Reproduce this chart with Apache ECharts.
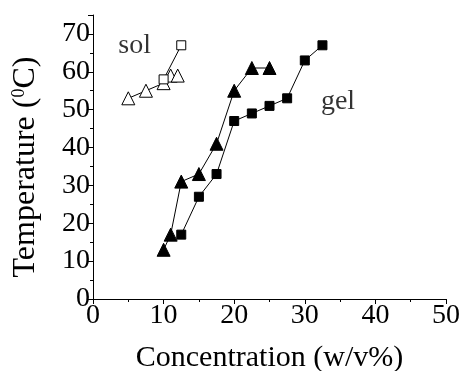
<!DOCTYPE html>
<html><head><meta charset="utf-8">
<script src="https://cdn.jsdelivr.net/npm/echarts@6/dist/echarts.min.js"></script>
<style>html,body{margin:0;padding:0;background:#fff}#c{width:463px;height:371px}</style>
</head><body><div id="c"></div>
<script>
// Data
const gelTriX = [10, 11, 12.5, 15, 17.5, 20, 22.5, 25];
const gelTriY = [13, 17, 31, 33, 41, 55, 61, 61];
const gelSqX = [12.5, 15, 17.5, 20, 22.5, 25, 27.5, 30, 32.5];
const gelSqY = [17, 27, 33, 47, 49, 51, 53, 63, 67];
const solTriX = [5, 7.5, 10, 11, 12];
const solTriY = [53, 55, 57, 59, 59];
const solSqX = [10, 12.5];
const solSqY = [58, 67];
const xTicks = [0, 10, 20, 30, 40, 50];
const yTicks = [0, 10, 20, 30, 40, 50, 60, 70];
const labels = [{text: 'sol', x: 5.9, y: 67}, {text: 'gel', x: 34.7, y: 52}];

const font = 'Liberation Serif';
const pair = (xs, ys) => xs.map((x, i) => [x, ys[i]]);
const lineStyle = {color: '#000', width: 1};
function series(xs, ys, symbol, size, filled) {
  return {
    type: 'line', data: pair(xs, ys), symbol: symbol, symbolSize: size,
    showAllSymbol: true, lineStyle: lineStyle,
    itemStyle: {color: filled ? '#000' : '#fff', borderColor: '#000', borderWidth: 1},
    animation: false, z: 3
  };
}
const chart = echarts.init(document.getElementById('c'));
chart.setOption({
  animation: false,
  backgroundColor: '#fff',
  grid: {left: 93, right: 17, top: 15, bottom: 72, containLabel: false, outerBoundsMode: 'none'},
  xAxis: {
    type: 'value', min: 0, max: 50, interval: 10,
    axisLine: {lineStyle: {color: '#000', width: 1}},
    axisTick: {inside: false, length: 5, lineStyle: {color: '#000'}},
    minorTick: {show: true, splitNumber: 2, length: 3, lineStyle: {color: '#000'}},
    splitLine: {show: false},
    axisLabel: {color: '#000', fontFamily: font, fontSize: 28, margin: 3,
      formatter: v => xTicks.includes(v) ? String(v) : ''},
    name: 'Concentration (w/v%)', nameLocation: 'middle', nameGap: 44,
    nameTextStyle: {color: '#000', fontFamily: font, fontSize: 30}
  },
  yAxis: {
    type: 'value', min: 0, max: 75, interval: 10,
    axisLine: {show: true, lineStyle: {color: '#000', width: 1}},
    axisTick: {show: true, inside: false, length: 5, lineStyle: {color: '#000'}},
    minorTick: {show: true, splitNumber: 2, length: 3, lineStyle: {color: '#000'}},
    splitLine: {show: false},
    axisLabel: {color: '#000', fontFamily: font, fontSize: 28, margin: 3,
      formatter: v => yTicks.includes(v) ? String(v) : ''},
    name: 'Temperature ({s|0}C)', nameLocation: 'middle', nameGap: 51,
    nameTextStyle: {color: '#000', fontFamily: font, fontSize: 32, padding: [0, 20, 0, 0],
      rich: {s: {fontFamily: font, fontSize: 18, verticalAlign: 'top', padding: [0, 0, 14, 0], color: '#000'}}}
  },
  series: [
    series(gelTriX, gelTriY, 'triangle', 13, true),
    series(gelSqX, gelSqY, 'rect', 9, true),
    series(solTriX, solTriY, 'triangle', 13, false),
    series(solSqX, solSqY, 'rect', 9, false),
    {
      type: 'scatter', data: labels.map(l => [l.x, l.y, l.text]), symbolSize: 0,
      label: {show: true, formatter: p => p.data[2], color: '#000', fontFamily: font, fontSize: 28, position: 'inside'},
      silent: true
    }
  ]
});
</script></body></html>
